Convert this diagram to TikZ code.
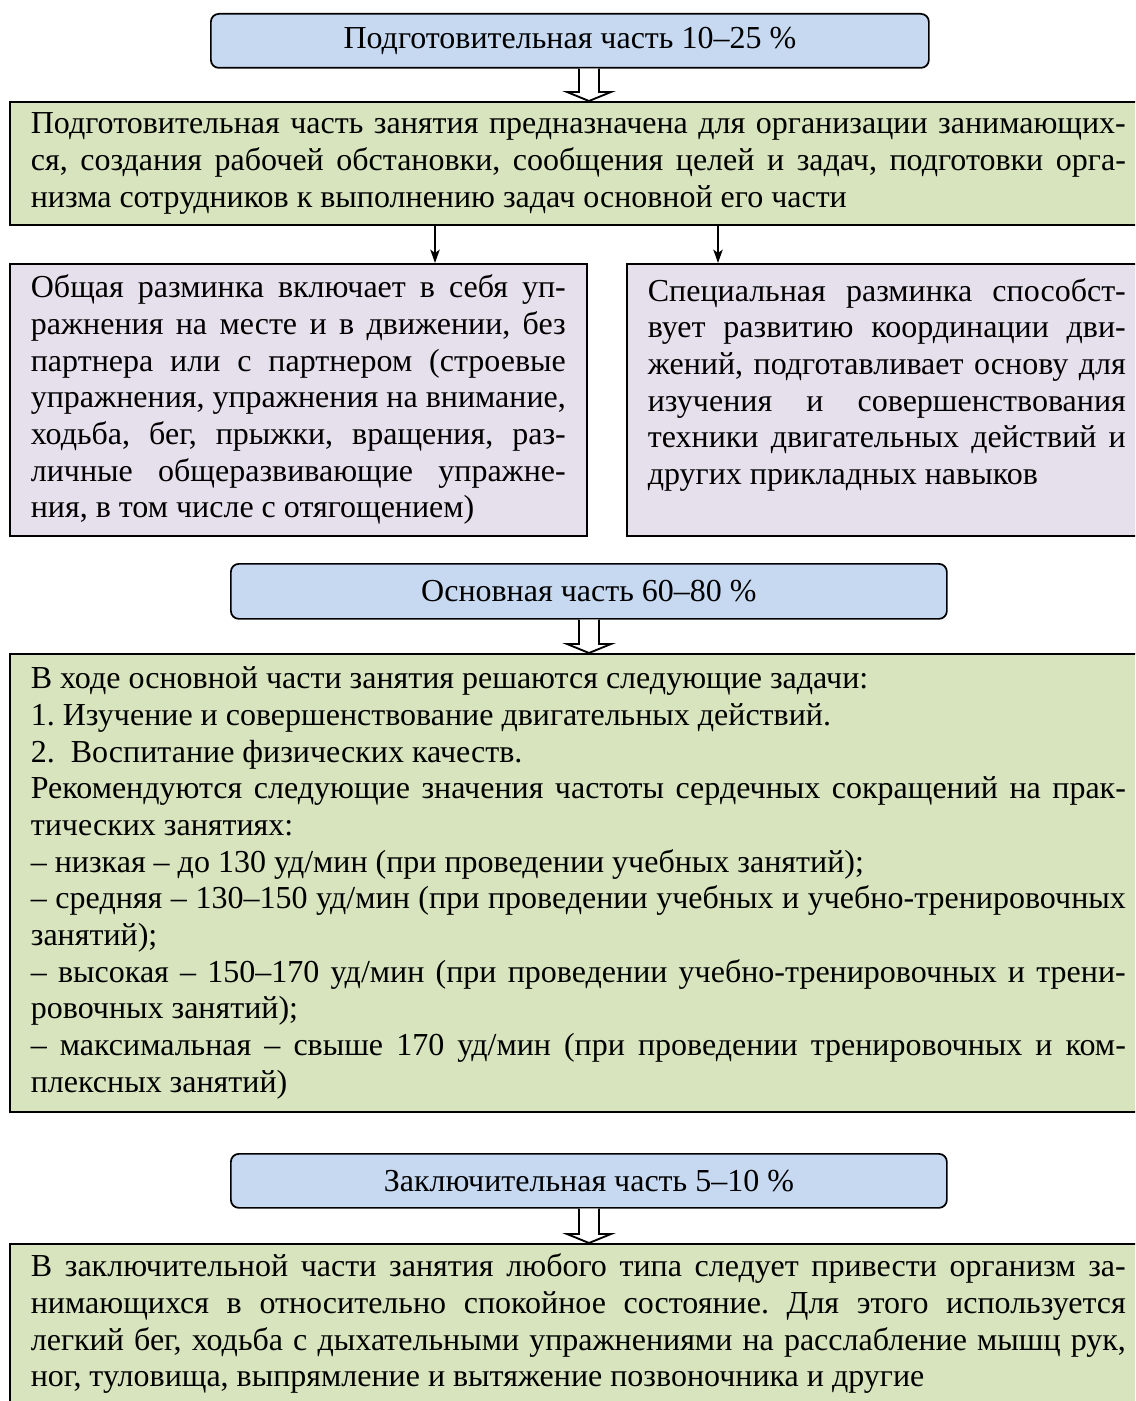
\documentclass[tikz,border=0pt]{standalone}
\usepackage{fontspec}
\setmainfont{Liberation Serif}
\usetikzlibrary{arrows.meta,calc}
\definecolor{bluefill}{HTML}{C6D9F1}
\definecolor{greenfill}{HTML}{D7E4BD}
\definecolor{purplefill}{HTML}{E5E0EC}
\newcommand\jl[1]{\makebox[\linewidth][s]{#1}\par}
\newcommand\bodyfont{\fontsize{24}{27.5}\selectfont\frenchspacing\setlength\parindent{0pt}}
\tikzset{
  x=0.75pt, y=-0.75pt,
  headbox/.style={draw, line width=1.3pt, rounded corners=6pt, fill=bluefill,
    anchor=north west, inner sep=0pt, font=\bodyfont, align=center},
  textbox/.style={draw, line width=1.3pt, anchor=north west, inner xsep=15.75pt,
    inner ysep=0pt, font=\bodyfont, align=justify},
  greenbox/.style={textbox, fill=greenfill, text width=821.25pt},
  purplebox/.style={textbox, fill=purplefill},
  thinarr/.style={line width=1.3pt, -{Stealth[length=10pt,width=7pt,inset=2.5pt]}},
  hollowarr/.style={line width=1.4pt, fill=white, line join=miter},
}
\newcommand\hollow[2]{%
  \draw[hollowarr] let \p1=(#1.south -| ax), \p2=(#2.north -| ax) in
    (\x1-7.5pt,\y1) -- (\x1-7.5pt,\y2+6.75pt) -- (\x1-16.5pt,\y2+6.75pt) --
    (\x1,\y2) -- (\x1+16.5pt,\y2+6.75pt) -- (\x1+7.5pt,\y2+6.75pt) -- (\x1+7.5pt,\y1);}
\begin{document}
\begin{tikzpicture}
\useasboundingbox (0,0) rectangle (1135,1401);
\clip (0,0) rectangle (1135,1401);
\coordinate (ax) at (589,0);
\coordinate (a1) at (435,0);
\coordinate (a2) at (718,0);

\node[headbox, minimum width=538.5pt, minimum height=40.5pt] (b1) at (210,13)
  {Подготовительная часть 10–25 \%};

\node[greenbox, minimum height=92.25pt] (g1) at (9,101) {%
\jl{Подготовительная часть занятия предназначена для организации занимающих-}
\jl{ся, создания рабочей обстановки, сообщения целей и задач, подготовки орга-}
низма сотрудников к выполнению задач основной его части};

\node[purplebox, text width=401.25pt, minimum height=204pt] (p1) at (9,263) {%
\jl{Общая разминка включает в себя уп-}
\jl{ражнения на месте и в движении, без}
\jl{партнера или с партнером (строевые}
\jl{упражнения, упражнения на внимание,}
\jl{ходьба, бег, прыжки, вращения, раз-}
\jl{личные общеразвивающие упражне-}
ния, в том числе с отягощением)};

\node[purplebox, text width=358.5pt, minimum height=204pt] (p2) at (626,263) {%
\jl{Специальная разминка способст-}
\jl{вует развитию координации дви-}
\jl{жений, подготавливает основу для}
\jl{изучения и совершенствования}
\jl{техники двигательных действий и}
других прикладных навыков\par\mbox{}};

\node[headbox, minimum width=537pt, minimum height=41.25pt] (b2) at (230,563)
  {Основная часть 60–80 \%};

\node[greenbox, minimum height=343.5pt] (g2) at (9,653) {%
В ходе основной части занятия решаются следующие задачи:\par
1. Изучение и совершенствование двигательных действий.\par
2.\hspace{0.5em}Воспитание физических качеств.\par
\jl{Рекомендуются следующие значения частоты сердечных сокращений на прак-}
тических занятиях:\par
– низкая – до 130 уд/мин (при проведении учебных занятий);\par
\jl{– средняя – 130–150 уд/мин (при проведении учебных и учебно-тренировочных}
занятий);\par
\jl{– высокая – 150–170 уд/мин (при проведении учебно-тренировочных и трени-}
ровочных занятий);\par
\jl{– максимальная – свыше 170 уд/мин (при проведении тренировочных и ком-}
плексных занятий)};

\node[headbox, minimum width=537pt, minimum height=40.5pt] (b3) at (230,1153)
  {Заключительная часть 5–10 \%};

\node[greenbox, minimum height=120pt] (g3) at (9,1243) {%
\jl{В заключительной части занятия любого типа следует привести организм за-}
\jl{нимающихся в относительно спокойное состояние. Для этого используется}
\jl{легкий бег, ходьба с дыхательными упражнениями на расслабление мышц рук,}
ног, туловища, выпрямление и вытяжение позвоночника и другие};

\hollow{b1}{g1}
\hollow{b2}{g2}
\hollow{b3}{g3}
\draw[thinarr] (g1.south -| a1) -- (p1.north -| a1);
\draw[thinarr] (g1.south -| a2) -- (p2.north -| a2);
\end{tikzpicture}
\end{document}
